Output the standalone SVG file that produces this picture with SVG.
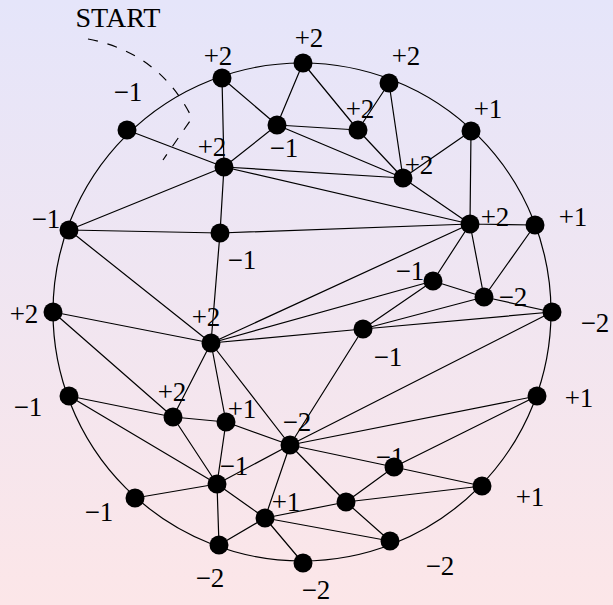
<svg xmlns="http://www.w3.org/2000/svg" width="613" height="605" viewBox="0 0 613 605">
<defs>
<linearGradient id="bg" x1="0" y1="0" x2="0" y2="1">
<stop offset="0" stop-color="#e5e5fa"/>
<stop offset="1" stop-color="#fce6e8"/>
</linearGradient>
<style>
.e{stroke:#000;stroke-width:1.2;fill:none}
.n circle{fill:#000}
text{font-family:"Liberation Serif","DejaVu Serif",serif;font-size:27px;fill:#000;text-anchor:middle}
</style>
</defs>
<rect width="613" height="605" fill="url(#bg)"/>
<g id="start">
<text x="118" y="27" textLength="85" lengthAdjust="spacingAndGlyphs">START</text>
<path class="e" d="M88,39 Q160,53 192,118 L163,160" stroke-dasharray="10 10"/>
</g>
<g id="connectors" class="e">
<circle cx="302" cy="312" r="249"/>
<path d="M127,130L224,167 M222,78L277,125 M222,78L224,167 M303,63L277,125 M303,63L358,130 M277,125L358,130 M277,125L224,167 M277,125L403,178 M358,130L389,83 M358,130L403,178 M389,83L403,178 M471,131L403,178 M471,131L470,224 M224,167L403,178 M224,167L470,224 M224,167L69,230 M224,167L220,233 M69,230L220,233 M69,230L211,343 M220,233L470,224 M220,233L211,343 M470,224L535,225 M470,224L433,281 M470,224L484,297 M470,224L211,343 M403,178L470,224 M535,225L484,297 M433,281L484,297 M433,281L363,329 M433,281L211,343 M484,297L363,329 M484,297L552,312 M552,312L363,329 M552,312L290,445 M363,329L211,343 M363,329L290,445 M211,343L53,312 M211,343L173,417 M211,343L226,422 M211,343L290,445 M53,312L173,417 M69,396L173,417 M69,396L217,484 M173,417L226,422 M173,417L217,484 M226,422L290,445 M226,422L217,484 M290,445L217,484 M290,445L265,518 M290,445L394,467 M290,445L346,502 M290,445L537,396 M537,396L394,467 M394,467L482,486 M394,467L346,502 M346,502L482,486 M346,502L390,541 M346,502L265,518 M265,518L390,541 M265,518L217,484 M265,518L219,545 M265,518L303,563 M217,484L135,498 M217,484L219,545"/>
</g>
<g class="n">
<g id="nA"><circle cx="127" cy="130" r="9.5"/><text x="128" y="101">−1</text></g>
<g id="nB"><circle cx="222" cy="78" r="9.5"/><text x="218" y="65">+2</text></g>
<g id="nC"><circle cx="303" cy="63" r="9.5"/><text x="309" y="47">+2</text></g>
<g id="nD"><circle cx="389" cy="83" r="9.5"/><text x="406" y="65">+2</text></g>
<g id="nE"><circle cx="471" cy="131" r="9.5"/><text x="488" y="118">+1</text></g>
<g id="nF"><circle cx="535" cy="225" r="9.5"/><text x="573" y="226">+1</text></g>
<g id="nG"><circle cx="552" cy="312" r="9.5"/><text x="595" y="332">−2</text></g>
<g id="nH"><circle cx="537" cy="396" r="9.5"/><text x="579" y="407">+1</text></g>
<g id="nI"><circle cx="482" cy="486" r="9.5"/><text x="530" y="506">+1</text></g>
<g id="nJ"><circle cx="390" cy="541" r="9.5"/><text x="440" y="575">−2</text></g>
<g id="nK"><circle cx="303" cy="563" r="9.5"/><text x="316" y="599">−2</text></g>
<g id="nL"><circle cx="219" cy="545" r="9.5"/><text x="210" y="587">−2</text></g>
<g id="nM"><circle cx="135" cy="498" r="9.5"/><text x="99" y="521">−1</text></g>
<g id="nN"><circle cx="69" cy="396" r="9.5"/><text x="28" y="416">−1</text></g>
<g id="nO"><circle cx="53" cy="312" r="9.5"/><text x="24" y="323">+2</text></g>
<g id="nP"><circle cx="69" cy="230" r="9.5"/><text x="46" y="228">−1</text></g>
<g id="nQ"><circle cx="277" cy="125" r="9.5"/><text x="284" y="157">−1</text></g>
<g id="nR"><circle cx="358" cy="130" r="9.5"/><text x="360" y="118">+2</text></g>
<g id="nS"><circle cx="224" cy="167" r="9.5"/><text x="212" y="156">+2</text></g>
<g id="nT"><circle cx="403" cy="178" r="9.5"/><text x="419" y="174">+2</text></g>
<g id="nU"><circle cx="220" cy="233" r="9.5"/><text x="242" y="269">−1</text></g>
<g id="nV"><circle cx="470" cy="224" r="9.5"/><text x="495" y="226">+2</text></g>
<g id="nW"><circle cx="433" cy="281" r="9.5"/><text x="410" y="280">−1</text></g>
<g id="nX"><circle cx="484" cy="297" r="9.5"/><text x="513" y="306">−2</text></g>
<g id="nY"><circle cx="363" cy="329" r="9.5"/><text x="388" y="366">−1</text></g>
<g id="nZ"><circle cx="211" cy="343" r="9.5"/><text x="206" y="326">+2</text></g>
<g id="na"><circle cx="173" cy="417" r="9.5"/><text x="172" y="401">+2</text></g>
<g id="nb"><circle cx="226" cy="422" r="9.5"/><text x="242" y="418">+1</text></g>
<g id="nc"><circle cx="290" cy="445" r="9.5"/><text x="297" y="431">−2</text></g>
<g id="nd"><circle cx="394" cy="467" r="9.5"/><text x="390" y="466">−1</text></g>
<g id="ne"><circle cx="217" cy="484" r="9.5"/><text x="234" y="475">−1</text></g>
<g id="nf"><circle cx="346" cy="502" r="9.5"/></g>
<g id="ng"><circle cx="265" cy="518" r="9.5"/><text x="286" y="511">+1</text></g>
</g>
</svg>
